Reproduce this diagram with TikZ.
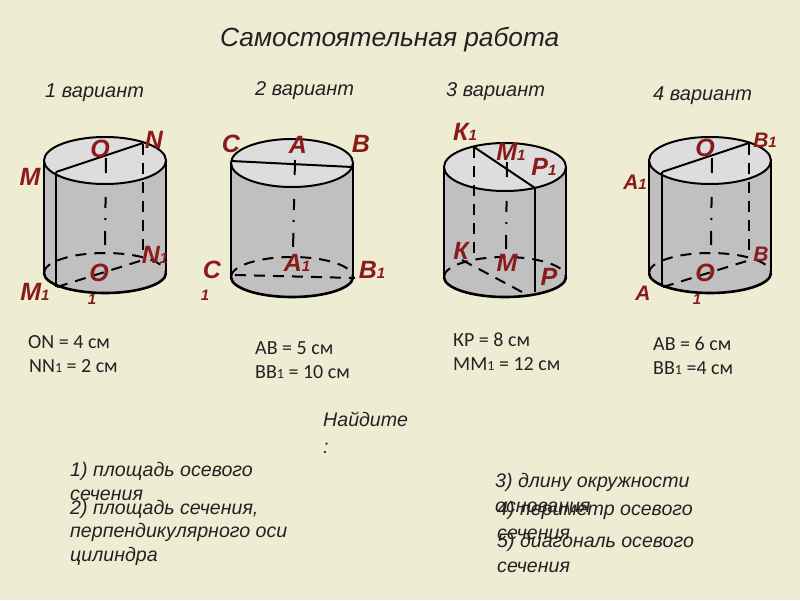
\documentclass[tikz,border=0pt]{standalone}
\usepackage{fontspec}
\setmainfont{Liberation Sans}
\newfontfamily\calfont{Carlito}
\definecolor{slidebg}{HTML}{EEEDD4}
\definecolor{bodygray}{HTML}{C0C0C0}
\definecolor{topgray}{HTML}{DDDDDD}
\definecolor{labelred}{HTML}{8B1A1A}
\definecolor{inkgray}{HTML}{222222}
\newcommand{\fs}[1]{\fontsize{#1}{#1}\selectfont}
\newcommand{\cylbody}[4]{%
  % #1 centre x, #2 top centre y, #3 bottom centre y, #4 top radius y
  \fill[bodygray] (#1-61,#2) -- (#1-61,#3) arc[start angle=180,end angle=0,x radius=61,y radius=20] -- (#1+61,#2) -- cycle;
  \draw[edge] (#1-61,#2) -- (#1-61,#3);
  \draw[edge] (#1+61,#2) -- (#1+61,#3);
  \draw[baseedge] (#1-61,#3) arc[start angle=180,end angle=0,x radius=61,y radius=20];
  \draw[hidden] (#1-61,#3) arc[start angle=180,end angle=360,x radius=61,y radius=20];
  \draw[edge,fill=topgray] (#1,#2) ellipse[x radius=61,y radius=#4];
}
\tikzset{
  x=1pt,y=-1pt,
  edge/.style={draw=black,line width=2pt},
  baseedge/.style={draw=black,line width=2.6pt},
  hidden/.style={draw=black,line width=2pt,dash pattern=on 11pt off 8pt},
  axisline/.style={draw=black,line width=2pt,dash pattern=on 15pt off 24pt on 11pt off 10pt on 2pt off 11pt on 14pt off 100pt},
  pt/.style={text=labelred,font=\fs{25}\bfseries\itshape,inner sep=0pt},
  head/.style={text=inkgray,font=\fs{26.3}\itshape,inner sep=0pt,anchor=base west},
  var/.style={text=inkgray,font=\fs{20}\itshape,inner sep=0pt,anchor=base west},
  given/.style={text=inkgray,font=\calfont\fs{20},inner sep=0pt,anchor=base west},
  task/.style={text=inkgray,font=\fs{19.6}\itshape,inner sep=0pt,anchor=base west},
}
\newcommand{\sub}[1]{{\fs{15}#1}}
\newcommand{\csub}[1]{{\fs{14}#1}}
\begin{document}
\begin{tikzpicture}
\useasboundingbox[fill=slidebg] (0,0) rectangle (800,600);
% cylinder 1
\cylbody{105}{160.5}{273}{23.5}
\draw[edge] (56,172) -- (143,143);
\draw[edge] (56,172) -- (56,287);
\draw[hidden] (143,144) -- (143,255);
\draw[axisline] (106,158) -- (105,250);
\draw[hidden] (57,287) -- (143,260);
% cylinder 2
\cylbody{292}{163}{277}{24}
\draw[edge] (231,161) -- (352,167);
\draw[axisline] (295,160) -- (293,250);
\draw[hidden] (235,275) -- (355,278);
% cylinder 3
\cylbody{505}{167}{277}{24}
\draw[edge] (474,147) -- (535,188);
\draw[edge] (535,188) -- (535,292);
\draw[hidden] (474,147) -- (474,257);
\draw[axisline] (507,162) -- (506,250);
\draw[hidden] (462,260) -- (522,292);
% cylinder 4
\cylbody{710}{160.5}{273}{23.5}
\draw[edge] (662,172) -- (749,143);
\draw[edge] (662,172) -- (662,287);
\draw[hidden] (749,144) -- (749,255);
\draw[axisline] (712,158) -- (711,250);
\draw[hidden] (663,287) -- (750,260);
% point labels, cylinder 1
\node[pt] (o1) at (100,149) {O};
\node[pt] (n1) at (154,140) {N};
\node[pt] (m1) at (30,177) {M};
\node[pt] (m11) at (35,292) {M\sub{1}};
\node[pt] (o11) at (99,273) {O};
\node[pt] (o11s) at (92,299) {\sub{1}};
\node[pt] (n11) at (155,255) {N\sub{1}};
% cylinder 2
\node[pt] (c2) at (231,144) {C};
\node[pt] (a2) at (298,145) {A};
\node[pt] (b2) at (361,144) {B};
\node[pt] (c21) at (212,270) {C};
\node[pt] (c21s) at (205,295) {\sub{1}};
\node[pt] (a21) at (297,263) {A\sub{1}};
\node[pt] (b21) at (372,270) {B\sub{1}};
% cylinder 3
\node[pt] (k3) at (465,132) {К\sub{1}};
\node[pt] (m3) at (511,152) {M\sub{1}};
\node[pt] (p3) at (544,167) {P\sub{1}};
\node[pt] (k31) at (461,251) {К};
\node[pt] (m31) at (507,263) {M};
\node[pt] (p31) at (549,277) {P};
% cylinder 4
\node[pt] (o4) at (705,148) {O};
\node[pt,font=\fs{21}\bfseries\itshape] (b4) at (765,140) {B\sub{1}};
\node[pt,font=\fs{21}\bfseries\itshape] (a4) at (635,182) {A\sub{1}};
\node[pt,font=\fs{21}\bfseries\itshape] (a41) at (643,293) {A};
\node[pt] (o41) at (705,273) {O};
\node[pt] (o41s) at (697,299) {\sub{1}};
\node[pt,font=\fs{21}\bfseries\itshape] (b41) at (761,254) {B};
% headings
\node[head] (title) at (220,46) {Самостоятельная работа};
\node[var] (v1) at (45,97) {1 вариант};
\node[var] (v2) at (255,95) {2 вариант};
\node[var] (v3) at (446,96) {3 вариант};
\node[var] (v4) at (653,100) {4 вариант};
% givens
\node[given] (g1a) at (28,348) {ON = 4 см};
\node[given] (g1b) at (29,372) {NN\csub{1} = 2 см};
\node[given] (g2a) at (255,354) {АВ = 5 см};
\node[given] (g2b) at (255,378) {ВВ\csub{1} = 10 см};
\node[given] (g3a) at (453,346) {КР = 8 см};
\node[given] (g3b) at (453,370) {ММ\csub{1} = 12 см};
\node[given] (g4a) at (653,350) {АВ = 6 см};
\node[given] (g4b) at (653,374) {ВВ\csub{1} =4 см};
% tasks
\node[task] (find) at (323,426) {Найдите};
\node[task] (findc) at (323,453) {:};
\node[task] (t1a) at (70,476) {1) площадь осевого};
\node[task] (t1b) at (70,500) {сечения};
\node[task] (t2a) at (70,514) {2) площадь сечения,};
\node[task] (t2b) at (70,537) {перпендикулярного оси};
\node[task] (t2c) at (70,561) {цилиндра};
\node[task] (t3a) at (495,487) {3) длину окружности};
\node[task] (t3b) at (495,512) {основания};
\node[task] (t4a) at (497,515) {4) периметр осевого};
\node[task] (t4b) at (497,539) {сечения};
\node[task] (t5a) at (497,547) {5) диагональ осевого};
\node[task] (t5b) at (497,572) {сечения};
\end{tikzpicture}
\end{document}
